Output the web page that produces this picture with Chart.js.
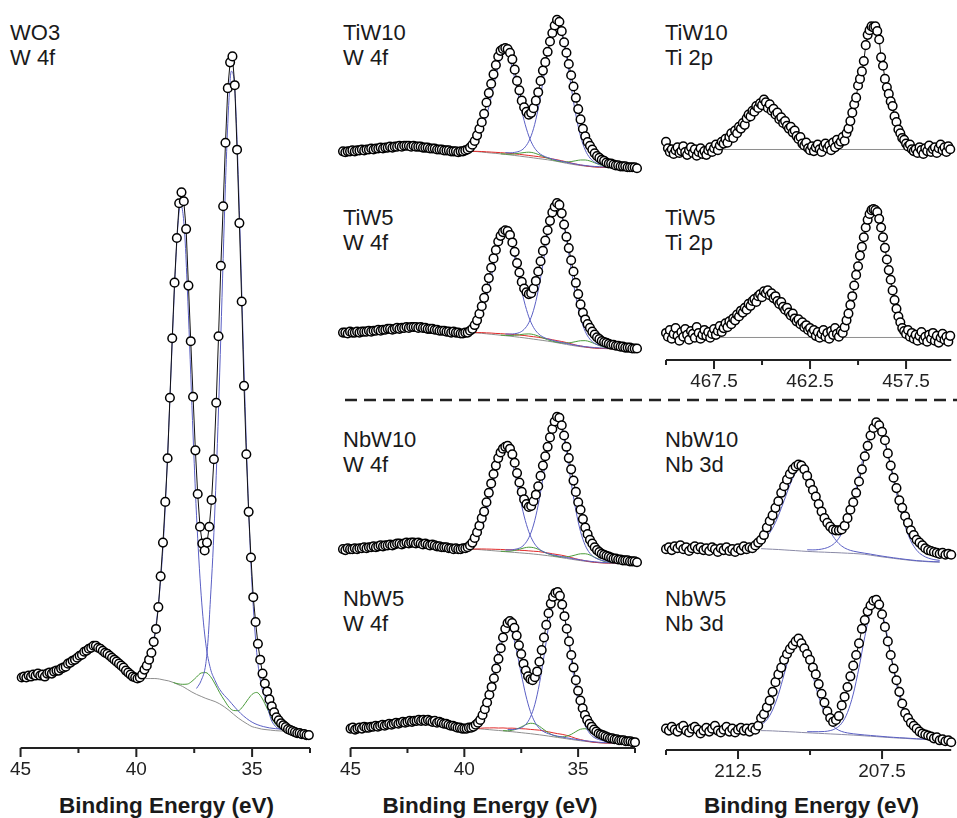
<!DOCTYPE html>
<html><head><meta charset="utf-8">
<script src="https://cdn.jsdelivr.net/npm/chart.js@4.4.1/dist/chart.umd.min.js"></script>
<style>
html,body{margin:0;padding:0;background:#fff;overflow:hidden;}
body{width:957px;height:818px;position:relative;font-family:"Liberation Sans",Arial,sans-serif;color:#1a1a1a;}
canvas{position:absolute;}
.lbl{position:absolute;font-size:22px;line-height:25px;white-space:nowrap;}
.ttl{position:absolute;font-size:22.5px;font-weight:bold;line-height:26px;text-align:center;white-space:nowrap;}
svg{position:absolute;left:0;top:0;}
</style></head><body>
<div class="lbl" style="left:10px;top:20px">WO3<br>W 4f</div>
<div class="lbl" style="left:343px;top:20px">TiW10<br>W 4f</div>
<div class="lbl" style="left:665px;top:20px">TiW10<br>Ti 2p</div>
<div class="lbl" style="left:343px;top:205px">TiW5<br>W 4f</div>
<div class="lbl" style="left:665px;top:205px">TiW5<br>Ti 2p</div>
<div class="lbl" style="left:343px;top:427px">NbW10<br>W 4f</div>
<div class="lbl" style="left:665px;top:427px">NbW10<br>Nb 3d</div>
<div class="lbl" style="left:343px;top:586px">NbW5<br>W 4f</div>
<div class="lbl" style="left:665px;top:586px">NbW5<br>Nb 3d</div>
<div class="ttl" style="left:20px;width:293px;top:793px">Binding Energy (eV)</div>
<div class="ttl" style="left:343px;width:294px;top:793px">Binding Energy (eV)</div>
<div class="ttl" style="left:666px;width:291px;top:793px">Binding Energy (eV)</div>
<svg width="957" height="818"><line x1="345" y1="400" x2="957" y2="400" stroke="#222" stroke-width="2.5" stroke-dasharray="12 7"/></svg>
<script>
// ---------- DATA ----------
const gridStep = 0.1;
// WO3 W 4f
const wo3E0 = 44.95;
const wo3Counts = [71,72,71,73,72,74,73,75,73,74, 72,75,76,75,77,78,78,80,81,82, 85,86,88,89,91,93,94,97,98,100,
 101,103,103,101,100,98,96,95,93,91, 89,87,85,83,81,78,76,74,72,71, 70,71,74,79,83,89,96,107,120,142,
 173,207,248,292,353,413,469,514,549,560, 551,523,466,410,354,300,256,223,206,199, 207,223,250,291,348,415,486,546,610,665,
 691,697,668,603,529,450,365,296,238,192, 152,127,105,89,75,65,57,49,42,36, 31,28,25,23,21,19,18,17,16,15, 15,14,14,13,13];
const wo3BgE = [39.6,39.4,39.2,39.0,38.8,38.6,38.4,38.2,38.0,37.8,37.6,37.4,37.2,37.0,36.8,36.6,36.4,36.2,36.0,35.8,35.6,35.4,35.2,35.0,34.8,34.6,34.4,34.2,34.0,33.8,33.6];
const wo3Bg = [70,70,70,69.5,68.5,67.6,66,64,62,59.2,56.4,54,52,50,48.4,46.8,44.5,41.5,38,34,30.2,27,24.1,21.5,20.3,19.1,18.5,18,17.5,17.2,17];
const wo3GreenE = [38.4,38.2,38.0,37.8,37.6,37.4,37.2,37.0,36.8,36.6,36.4,36.2,36.0,35.8,35.6,35.4,35.2,35.0,34.8,34.6,34.4,34.2,34.0,33.8,33.6];
const wo3Green = [66,64.7,64.2,64.4,67.2,71.5,75.6,76,72.1,64.5,55.7,48.2,41.2,37.8,37.6,41.8,48.3,54.1,56,51.3,42.3,32.3,24.4,20.1,18];
const wo3Blue1E = [39.6,39.4,39.2,39.0,38.8,38.6,38.5,38.4,38.3,38.2,38.1,38.0,37.9,37.8,37.7,37.6,37.5,37.4,37.2,37.0,36.8,36.6,36.4,36.0,35.5,35.0,34.5,34.0,33.6];
const wo3Blue1 = [80,92,116,156,221,323,380,437,489,528,547,541,514,464,407,345,287,234,154,105,80,68,59,48,35,26,21.5,19.5,19];
const wo3Blue2E = [37.4,37.2,37.0,36.9,36.8,36.7,36.6,36.5,36.4,36.3,36.2,36.1,36.0,35.9,35.8,35.7,35.6,35.5,35.4,35.3,35.2,35.1,35.0,34.8,34.6,34.4,34.2,34.0,33.8,33.6];
const wo3Blue2 = [60,68,85,110,150,192,245,307,378,454,532,601,653,682,677,643,578,503,421,344,273,211,162,96,63,48,30,22,19,18];

// Mixed oxides, W 4f (45.0 -> 32.5 eV)
const wE0 = 45.0;
const tiw10W = [20,19,20,20,21,20,21,21,22,21, 22,22,23,22,23,23,24,23,24,24, 25,24,25,25,26,25,26,26,26,25,
 26,25,25,25,24,24,24,23,23,23, 22,22,22,21,21,21,20,20,20,19, 20,20,21,22,24,27,31,37,44,51,
 60,72,82,92,102,112,121,127,129,130, 129,125,118,107,95,85,74,67,62,59, 61,66,74,83,95,106,115,126,137,146,
 154,160,158,148,136,125,113,101,89,77, 65,54,44,36,30,26,22,18,15,13, 11,10,8,7,7,6,5,5,4,4, 4,3,3,3,3,2];
const tiw5W = [20,20,19,21,20,20,21,20,21,21, 21,22,21,22,22,23,22,23,23,24, 24,23,24,25,24,25,25,26,25,26,
 26,26,25,26,25,25,24,24,24,23, 23,22,22,22,21,21,20,21,20,20, 19,19,20,20,22,24,28,33,40,48,
 57,67,78,89,99,108,117,123,127,129, 128,124,116,106,94,84,74,67,63,61, 62,67,75,85,96,107,118,129,139,148,
 154,158,156,147,135,122,110,97,85,73, 61,50,41,34,29,25,21,18,15,13, 11,10,9,8,7,7,6,6,5,5, 4,4,4,3,3,3];
const nbw10W = [20,19,21,20,20,21,20,21,21,22, 21,22,22,23,22,23,24,23,24,24, 25,24,25,26,26,25,26,27,26,27,
 27,26,27,26,25,26,25,24,25,24, 23,23,22,22,22,21,21,20,21,20, 20,21,21,22,24,27,32,38,45,53,
 60,70,80,90,100,109,117,123,127,129, 130,127,121,112,101,91,81,73,68,65, 66,71,78,87,98,109,119,129,139,148,
 156,161,160,152,141,129,117,105,93,81, 70,62,52,43,36,30,26,22,19,17, 15,14,13,12,11,10,10,9,9,8, 8,8,7,7,7,6];
const nbw5W = [20,21,19,20,21,20,22,21,21,22, 22,23,22,23,24,23,24,25,24,25, 26,25,26,27,26,27,28,27,28,28,
 29,28,29,28,29,28,27,28,26,27, 26,25,25,24,23,23,22,21,21,20, 20,20,21,21,22,24,26,29,34,40,
 47,55,63,72,82,92,103,114,123,129, 131,129,124,116,106,97,87,80,74,71, 70,73,79,89,101,114,127,139,149,156,
 160,161,157,148,136,123,110,96,83,70, 59,49,41,34,29,25,22,19,17,15, 14,13,12,11,10,10,9,9,8,8, 8,7,7,7,6,6];

// W 4f fit components (shared energy grid)
const wFitE = [39.5,39.3,39.1,38.9,38.7,38.5,38.3,38.1,37.9,37.7,37.5,37.3,37.1,36.9,36.7,36.5,36.3,36.1,35.9,35.7,35.5,35.3,35.1,34.9,34.7,34.5,34.3,34.1,33.9,33.7,33.5,33.3];
const N = null;
const tiw10Bg = [20,19.7,19.2,18.7,18.2,17.8,17.3,16.8,16.2,15.6,15,14.3,13.7,13,12.3,11.7,11,10.2,9.3,8.3,7.3,6.4,5.6,4.9,4.3,3.8,3.4,3.1,2.9,2.8,2.7,2.7];
const tiw10Red = [20,20,19.8,19.5,19.2,18.9,18.6,18.2,17.8,17.3,16.8,16.2,15.6,15,14.4,13.7,12.9,12,11,10,8.8,7.6,6.4,5.4,4.6,3.9,3.4,3.1,2.9,2.8,2.7,2.7];
const tiw10Green = [N,N,N,N,N,N,17.4,17.1,16.9,17.3,18,18.7,19.1,18.4,16.7,14.7,12.7,11,9.8,8.9,8.7,9.1,10,10.8,10.8,9.7,7.8,5.8,4.2,3.4,2.9,N];
const tiw10Blue1 = [26.6,32,41.8,57.3,77.8,100.1,118,124.8,116.9,97.9,74.6,52.9,36.3,25.3,18.9,15.4,13.4,11.8,10.6,9.4,8.3,7.3,6.4,5.5,4.9,4.3,3.9,3.6,3.3,3.2,3.1,3.1];
const tiw10Blue2 = [N,N,N,N,N,N,N,18.6,18.4,18.9,20.1,23.4,30.7,44.1,65.5,93.9,124.5,149.1,158.3,147.2,120.8,88.6,58.8,36,21.3,12.9,8.5,6.4,5.1,4.6,4.2,4.0];
const tiw5Bg = [20,19.6,19.2,18.7,18.2,17.7,17.2,16.7,16.2,15.6,15,14.4,13.7,13,12.3,11.6,10.9,10.1,9.2,8.3,7.4,6.5,5.7,5,4.4,3.9,3.5,3.2,3,2.9,2.8,2.8];
const tiw5Red = [20,20,20,19.7,19.5,19.1,18.9,18.5,18.3,17.8,17.3,16.9,16.2,15.6,15,14.2,13.4,12.4,11.4,10.5,9.4,8.1,6.7,5.7,4.8,4,3.5,3.2,3,2.9,2.8,2.8];
const tiw5Green = [N,N,N,N,N,N,17.3,17.0,16.9,17.1,17.7,18.4,18.6,17.9,16.3,14.3,12.4,10.9,9.7,9.0,8.8,9.4,10.4,11.3,11.4,10.2,8.2,6.1,4.4,3.5,3.0,N];
const tiw5Blue1 = [26.7,32.1,42.2,58.0,78.9,101.5,119.7,126.7,118.7,99.4,75.7,53.7,36.7,25.5,19.0,15.3,13.3,11.8,10.5,9.4,8.4,7.4,6.5,5.7,5.0,4.5,4.0,3.7,3.4,3.3,3.2,3.2];
const tiw5Blue2 = [N,N,N,N,N,N,N,18.5,18.4,18.8,20,23.4,30.5,43.7,64.8,92.7,122.9,147.1,156.2,145.3,119.4,87.6,58.2,35.7,21.2,12.9,8.5,6.4,5.2,4.7,4.3,4.1];
const nbw10Bg = [20,19.7,19.3,18.9,18.5,18.1,17.7,17.3,16.9,16.5,16.1,15.7,15.3,14.8,14.3,13.7,13.1,12.4,11.7,10.9,10.1,9.3,8.5,7.8,7.1,6.5,6,5.6,5.3,5.1,4.9,4.8];
const nbw10Red = [20,20.2,20.2,20.1,20,19.8,19.7,19.4,19.3,19.1,18.8,18.6,18.2,17.8,17.5,16.7,16,15.1,14.3,13.5,12.4,11.1,9.7,8.6,7.6,6.7,6,5.6,5.3,5.1,4.9,4.8];
const nbw10Green = [N,N,N,N,N,N,17.8,17.65,17.85,18.6,19.9,21.3,22.1,21.6,19.9,17.5,15.2,13.4,12.3,11.7,11.8,12.6,13.9,15.05,15.1,13.75,11.4,8.9,6.95,5.8,5.1,N];
const nbw10Blue1 = [26.8,32.4,42.5,58.5,79.8,102.7,121.2,128.3,120.4,101.1,77.4,55.3,38.5,27.5,21.1,17.5,15.5,14.1,13.0,12.0,11.1,10.2,9.3,8.5,7.7,7.1,6.5,6.1,5.7,5.5,5.3,5.2];
const nbw10Blue2 = [N,N,N,N,N,N,N,19.1,19.1,19.8,21.1,24.7,32.2,45.7,67.1,95.4,125.9,150.3,159.7,148.8,122.9,91.0,61.3,38.7,24.0,15.5,11.0,8.9,7.5,6.9,6.4,6.1];
const nbw5Bg = [20,19.7,19.3,18.9,18.5,18.1,17.7,17.2,16.8,16.3,15.8,15.3,14.8,14.2,13.6,13,12.3,11.6,10.9,10.2,9.5,8.8,8.1,7.5,6.9,6.4,5.9,5.5,5.2,5,4.8,4.7];
const nbw5Red = [20,20.4,20.7,20.7,20.8,20.6,20.7,20.4,20.5,20.2,19.9,19.7,19.2,18.8,18.4,17.6,16.7,15.7,14.8,14.1,13,11.6,9.9,8.7,7.6,6.6,5.9,5.5,5.2,5,4.8,4.7];
const nbw5Green = [N,N,N,N,N,N,17.9,17.75,18.3,19.6,21.7,24.1,25.5,24.9,22.4,18.9,15.6,13.2,11.8,11.5,12.2,14.1,16.9,19.3,19.9,18.2,14.7,10.8,7.9,6.1,5.2,N];
const nbw5Blue1 = [26.7,32.2,42.3,58.2,79.2,101.9,120.2,127.2,119.3,100.1,76.5,54.6,37.8,26.7,20.3,16.7,14.7,13.3,12.2,11.3,10.5,9.7,8.9,8.2,7.5,7.0,6.4,6.0,5.6,5.4,5.2,5.1];
const nbw5Blue2 = [N,N,N,N,N,N,N,19.0,19.0,19.6,20.8,24.3,31.7,45.1,66.4,94.7,125.1,149.5,158.9,148.1,122.3,90.5,60.9,38.4,23.8,15.4,10.9,8.8,7.4,6.8,6.3,6.0];

// Ti 2p (470.0 -> 455.2 eV)
const tiE0 = 470.0;
const tiw10Ti = [15,8,4,7,2,6,9,3,5,10, 4,1,6,9,3,7,0,4,8,2, 5,1,6,9,4,8,12,6,11,15, 13,18,14,20,24,19,27,24,31,29,
 35,33,40,44,42,48,47,53,51,56, 54,60,57,51,55,48,50,44,46,39, 41,35,37,32,29,31,25,27,21,18, 20,13,11,14,8,6,10,5,9,12,
 7,4,10,13,8,11,6,14,9,17, 12,15,20,16,24,29,37,46,55,62, 75,82,90,101,118,129,134,138,137,138, 133,124,105,96,82,73,66,58,53,42,
 36,28,24,19,17,13,10,12,7,5, 7,3,9,6,2,8,5,11,4,7, 9,3,8,12,6,9,4,10,7];
const tiw5Ti = [28,24,31,22,27,33,25,20,29,24, 32,26,21,30,27,23,34,28,22,26, 31,25,29,23,27,32,26,30,35,29, 33,38,34,40,37,43,41,47,45,51,
 49,54,52,58,56,61,63,60,66,68, 65,71,69,72,67,69,64,66,61,58, 60,55,52,54,49,46,48,43,40,42, 37,39,34,36,31,33,28,31,25,29,
 23,27,31,24,28,22,30,26,33,27, 24,30,28,34,41,48,57,66,77,88, 97,108,117,127,137,145,151,155,156,155, 153,146,137,127,116,104,93,83,72,62,
 53,45,39,33,30,27,31,24,28,22, 26,20,25,29,21,24,19,26,22,28, 20,25,18,23,27,21,24,19,25];
const tiBgE = [470.0,455.15];
const tiw10TiBg = [6.7,6.7];
const tiw5TiBg = [23.3,23.3];

// Nb 3d (215.0 -> 205.1 eV)
const nbE0 = 215.0;
const nbw10Nb = [22,24,21,25,23,26,22,24,20,23, 25,22,24,21,23,20,24,22,19,23, 21,24,20,22,19,23,21,25,22,24,
 23,26,29,32,37,45,52,58,66,73, 82,89,96,102,107,110,112,111,107,100, 92,85,78,70,62,55,50,46,43,42,
 42,43,47,55,64,72,82,94,107,121, 132,143,151,157,154,147,138,124,111,98, 87,74,66,57,50,42,37,32,29,26, 23,21,20,19,18,17,18,16,17,16];
const nbw5Nb = [22,20,24,21,19,23,25,20,18,22, 24,21,17,20,23,19,22,25,20,18, 21,24,19,22,18,21,23,20,22,19,
 23,21,25,33,37,44,51,60,70,78, 85,93,99,104,108,112,115,110,105,99, 93,85,78,68,58,49,40,33,29,31,
 35,46,55,65,76,87,98,110,125,134, 143,149,154,155,150,140,127,112,98,84, 72,60,48,38,33,28,25,22,19,17, 16,15,14,12,13,10,11,9,10,8];
const nbFitE = [211.7,211.5,211.3,211.1,210.9,210.7,210.5,210.3,210.1,209.9,209.7,209.5,209.3,209.1,208.9,208.7,208.5,208.3,208.1,207.9,207.7,207.5,207.3,207.1,206.9,206.7,206.5,206.3,206.1,205.9,205.7,205.5];
const nbw10NbBg = [22.5,22.2,21.9,21.6,21.2,20.8,20.4,20.0,19.6,19.3,19.0,18.8,18.5,18.3,18.0,17.7,17.4,17.0,16.5,15.6,14.7,13.8,13.0,12.2,11.4,10.7,10.0,9.4,9.0,8.6,8.3,8.1];
const nbw10NbBlue1 = [29.8,35.3,44.4,57.6,73.7,90.3,103.3,108,102.5,88.8,71.5,54.8,41,31.4,25.3,21.8,19.9,18.7,17.7,16.7,15.6,14.6,13.7,12.8,12,11.2,10.5,9.8,9.4,9,8.7,8.5];
const nbw10NbBlue2 = [N,N,N,N,N,N,N,N,21.3,21.2,21.6,22.7,25,29.8,38.7,53.3,74.3,100,126.3,146.5,153.7,144.7,122.8,95.2,68.3,46.3,30.7,20.9,15.5,12.5,10.9,10.0];
const nbw5NbBg = [20,19.9,19.7,19.4,19.1,18.8,18.5,18.1,17.8,17.5,17.2,16.9,16.6,16.3,16.0,15.7,15.4,15.0,14.6,14.2,13.8,13.4,13.0,12.6,12.3,12.0,11.6,11.3,11.0,10.7,10.4,10.1];
const nbw5NbBlue1 = [25.8,31.1,41.3,57.2,78.0,99.0,112.6,112.2,98.0,76.4,55.0,38.5,27.8,22.1,19.1,17.6,16.7,16.1,15.5,15.0,14.5,14.0,13.5,13.1,12.7,12.4,12.0,11.6,11.3,11.0,10.7,10.4];
const nbw5NbBlue2 = [N,N,N,N,N,N,N,N,18.9,18.9,18.9,19.1,20.0,22.3,27.6,38.7,57.7,85,116.7,143.3,153.8,142.5,115.1,82.6,54.6,35,23.2,17.3,14.4,12.9,12.1,11.5];

// Axis ticks
const wTicks = [45,42.5,40,37.5,35,32.5], wMajor = [45,40,35];
const tiTicks = [470,467.5,465,462.5,460,457.5], tiMajor = [467.5,462.5,457.5];
const nbTicks = [215,212.5,210,207.5], nbMajor = [212.5,207.5];

// ---------- BUILD ----------
Chart.defaults.font.family = '"Liberation Sans", Arial, sans-serif';
const grid = (e0, vals) => vals.map((v, i) => ({x: +(e0 - i * gridStep).toFixed(2), y: v}));
const pairs = (es, vals) => es.map((e, i) => ({x: e, y: vals[i]})).filter(p => p.y !== null);
const C = {blue:'#5a5fc4', green:'#4a9a3a', red:'#e02a2a', gray:'#8e8e8e', nbgray:'#8a8aa6'};
const dataDs = pts => ({data: pts, showLine: true, borderColor: '#111', borderWidth: 1, pointRadius: 4.3,
  pointBorderWidth: 1.5, pointBackgroundColor: '#fff', pointBorderColor: '#000', clip: false, tension: 0});
const fitDs = (pts, col) => ({data: pts, showLine: true, borderColor: col, borderWidth: 1, pointRadius: 0,
  cubicInterpolationMode: 'monotone', clip: false});

const axisPlugin = {
  id: 'axisTicks',
  afterDraw(chart, args, opts) {
    if (!opts || !opts.ticks) return;
    const ctx = chart.ctx, sx = chart.scales.x, y = chart.chartArea.bottom;
    ctx.save();
    ctx.strokeStyle = '#222'; ctx.lineWidth = 2; ctx.lineCap = 'butt';
    ctx.beginPath();
    ctx.moveTo(sx.left, y); ctx.lineTo(sx.right, y);
    opts.ticks.forEach(t => {
      const px = sx.getPixelForValue(t);
      const len = opts.major.includes(t) ? 9 : 5;
      ctx.moveTo(px, y); ctx.lineTo(px, y + len);
    });
    ctx.stroke(); ctx.restore();
  }
};

function panel(cfg) {
  const cv = document.createElement('canvas');
  cv.width = cfg.w; cv.height = cfg.h;
  cv.style.left = cfg.x + 'px'; cv.style.top = cfg.y + 'px';
  cv.style.width = cfg.w + 'px'; cv.style.height = cfg.h + 'px';
  document.body.appendChild(cv);
  const ax = cfg.axis;
  return new Chart(cv, {
    type: 'scatter',
    data: {datasets: cfg.datasets},
    options: {
      responsive: false, animation: false, devicePixelRatio: 1, events: [],
      layout: {padding: cfg.pad},
      plugins: {legend: {display: false}, tooltip: {enabled: false}, axisTicks: ax || {}},
      scales: {
        x: {type: 'linear', min: cfg.xmin, max: cfg.xmax, reverse: true, display: !!ax,
          grid: {display: false, drawTicks: false}, border: {display: false},
          afterBuildTicks: ax ? (s => { s.ticks = ax.ticks.map(v => ({value: v})); }) : undefined,
          ticks: {autoSkip: false, maxRotation: 0, minRotation: 0, padding: 10, color: '#222',
            font: {size: 19}, callback: v => (ax && ax.major.includes(v)) ? String(v) : ''}},
        y: {type: 'linear', min: cfg.ymin, max: cfg.ymax, display: false}
      }
    },
    plugins: ax ? [axisPlugin] : []
  });
}

// WO3
panel({x:0, y:0, w:320, h:795, pad:{left:20, right:7, top:0, bottom:4.2}, xmin:32.5, xmax:45, ymin:0, ymax:748,
  axis:{ticks:wTicks, major:wMajor},
  datasets:[dataDs(grid(wo3E0, wo3Counts)), fitDs(pairs(wo3Blue1E, wo3Blue1), C.blue), fitDs(pairs(wo3Blue2E, wo3Blue2), C.blue),
    fitDs(pairs(wo3GreenE, wo3Green), C.green), fitDs(pairs(wo3BgE, wo3Bg), C.gray)]});

function wSets(d, b1, b2, g, r, bg) {
  return [dataDs(grid(wE0, d)), fitDs(pairs(wFitE, b1), C.blue), fitDs(pairs(wFitE, b2), C.blue),
    fitDs(pairs(wFitE, g), C.green), fitDs(pairs(wFitE, r), C.red), fitDs(pairs(wFitE, bg), C.gray)];
}
const midPad = {left:13, right:8, top:0, bottom:0};
panel({x:330, y:0, w:315, h:190, pad:midPad, xmin:32.5, xmax:45, ymin:-15, ymax:175,
  datasets: wSets(tiw10W, tiw10Blue1, tiw10Blue2, tiw10Green, tiw10Red, tiw10Bg)});
panel({x:330, y:185, w:315, h:190, pad:midPad, xmin:32.5, xmax:45, ymin:-19, ymax:171,
  datasets: wSets(tiw5W, tiw5Blue1, tiw5Blue2, tiw5Green, tiw5Red, tiw5Bg)});
panel({x:330, y:395, w:315, h:190, pad:midPad, xmin:32.5, xmax:45, ymin:-12, ymax:178,
  datasets: wSets(nbw10W, nbw10Blue1, nbw10Blue2, nbw10Green, nbw10Red, nbw10Bg)});
panel({x:330, y:560, w:315, h:235, pad:{left:13, right:8, top:0, bottom:4.2}, xmin:32.5, xmax:45, ymin:0, ymax:188,
  axis:{ticks:wTicks, major:wMajor},
  datasets: wSets(nbw5W, nbw5Blue1, nbw5Blue2, nbw5Green, nbw5Red, nbw5Bg)});

// Ti 2p
panel({x:640, y:0, w:317, h:185, pad:{left:26, right:0, top:0, bottom:0}, xmin:455.15, xmax:470, ymin:-25, ymax:160,
  datasets:[dataDs(grid(tiE0, tiw10Ti)), fitDs(pairs(tiBgE, tiw10TiBg), C.gray)]});
panel({x:640, y:185, w:317, h:222, pad:{left:26, right:0, top:0, bottom:4.2}, xmin:455.15, xmax:470, ymin:0, ymax:175,
  axis:{ticks:tiTicks, major:tiMajor},
  datasets:[dataDs(grid(tiE0, tiw5Ti)), fitDs(pairs(tiBgE, tiw5TiBg), C.gray)]});

// Nb 3d
panel({x:640, y:395, w:317, h:190, pad:{left:26, right:0, top:0, bottom:0}, xmin:205.1, xmax:215, ymin:-10, ymax:180,
  datasets:[dataDs(grid(nbE0, nbw10Nb)), fitDs(pairs(nbFitE, nbw10NbBlue1), C.blue), fitDs(pairs(nbFitE, nbw10NbBlue2), C.blue),
    fitDs(pairs(nbFitE, nbw10NbBg), C.nbgray)]});
panel({x:640, y:560, w:317, h:237, pad:{left:26, right:0, top:0, bottom:4.2}, xmin:205.1, xmax:215, ymin:0, ymax:190,
  axis:{ticks:nbTicks, major:nbMajor},
  datasets:[dataDs(grid(nbE0, nbw5Nb)), fitDs(pairs(nbFitE, nbw5NbBlue1), C.blue), fitDs(pairs(nbFitE, nbw5NbBlue2), C.blue),
    fitDs(pairs(nbFitE, nbw5NbBg), C.nbgray)]});
</script>
</body></html>
